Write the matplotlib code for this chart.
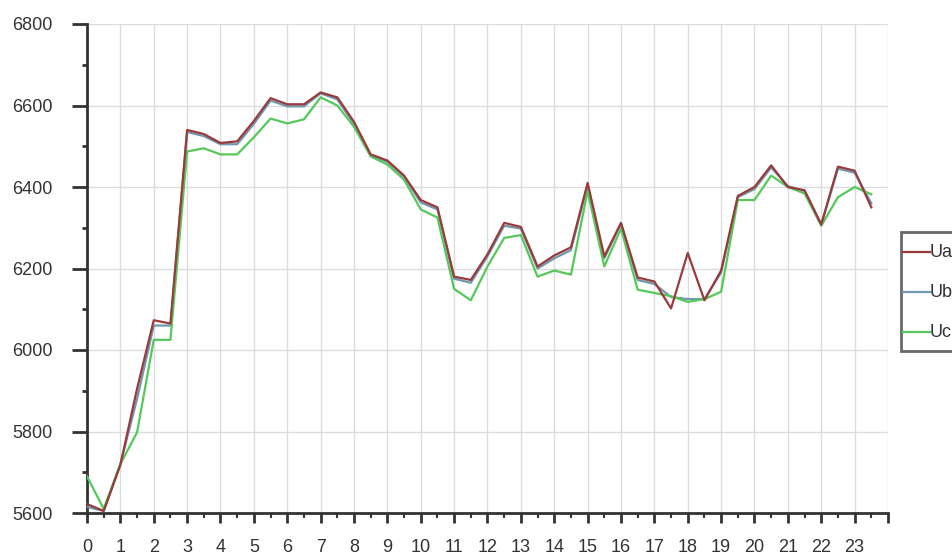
import matplotlib
matplotlib.use("Agg")
import numpy as np
import matplotlib.pyplot as plt
from matplotlib.ticker import MultipleLocator, FixedLocator
from matplotlib.legend_handler import HandlerLine2D
from matplotlib.lines import Line2D

plt.rcParams['font.family'] = ['Liberation Sans', 'DejaVu Sans']

hours = [0, 0.5, 1, 1.5, 2, 2.5, 3, 3.5, 4, 4.5, 5, 5.5, 6, 6.5, 7, 7.5,
         8, 8.5, 9, 9.5, 10, 10.5, 11, 11.5, 12, 12.5, 13, 13.5, 14, 14.5, 15, 15.5,
         16, 16.5, 17, 17.5, 18, 18.5, 19, 19.5, 20, 20.5, 21, 21.5, 22, 22.5, 23, 23.5]

Ua = [5622, 5605, 5718, 5905, 6073, 6065, 6540, 6530, 6508, 6512, 6562, 6618, 6603, 6603, 6632, 6620,
      6560, 6480, 6465, 6428, 6368, 6350, 6180, 6172, 6235, 6312, 6302, 6205, 6232, 6252, 6410, 6230,
      6312, 6178, 6168, 6102, 6238, 6122, 6195, 6378, 6400, 6453, 6400, 6392, 6308, 6450, 6440, 6350]

Ub = [5615, 5605, 5720, 5880, 6060, 6060, 6535, 6525, 6505, 6505, 6555, 6612, 6598, 6598, 6630, 6615,
      6555, 6478, 6462, 6425, 6362, 6345, 6175, 6165, 6230, 6305, 6298, 6200, 6225, 6245, 6405, 6225,
      6310, 6172, 6162, 6130, 6125, 6125, 6190, 6375, 6395, 6448, 6402, 6390, 6308, 6445, 6435, 6360]

Uc = [5690, 5610, 5720, 5798, 6025, 6025, 6487, 6495, 6480, 6480, 6522, 6568, 6556, 6566, 6620, 6600,
      6548, 6475, 6455, 6418, 6345, 6325, 6150, 6122, 6205, 6275, 6282, 6180, 6195, 6185, 6390, 6205,
      6298, 6148, 6140, 6132, 6118, 6125, 6143, 6368, 6368, 6428, 6400, 6384, 6305, 6375, 6400, 6382]

x_labels = [str(h) for h in range(24)]


class LoweredLineHandler(HandlerLine2D):
    def create_artists(self, legend, orig_handle, xdescent, ydescent, width, height,
                       fontsize, trans):
        arts = super().create_artists(legend, orig_handle, xdescent, ydescent, width,
                                      height, fontsize, trans)
        for a in arts:
            a.set_ydata(np.asarray(a.get_ydata()) - 5.0)
        return arts


fig = plt.figure(figsize=(9.53, 5.57), dpi=100)
ax = fig.add_axes([87/953, 1 - 513/557, (888 - 87)/953, (513 - 24)/557])

lb, = ax.plot(hours, Ub, color='#6f97b0', lw=1.6, zorder=3, label='Ub')
lc, = ax.plot(hours, Uc, color='#55c85a', lw=1.6, zorder=4, label='Uc')
la, = ax.plot(hours, Ua, color='#9a3a3a', lw=1.6, zorder=5, label='Ua')

ax.set_xlim(0, 24)
ax.set_ylim(5600, 6800)
ax.xaxis.set_major_locator(FixedLocator(list(range(25))))
ax.set_xticklabels(x_labels + [''])
ax.xaxis.set_minor_locator(MultipleLocator(0.5))
ax.yaxis.set_major_locator(MultipleLocator(200))
ax.yaxis.set_minor_locator(MultipleLocator(100))

ax.grid(True, which='major', color='#dcdcdc', lw=1.0, zorder=0)
for s in ['top', 'right']:
    ax.spines[s].set_visible(False)
for s in ['left', 'bottom']:
    ax.spines[s].set_color('#333333')
    ax.spines[s].set_linewidth(2)

ax.tick_params(axis='y', which='major', length=11, width=2, color='#333333', pad=14,
               labelsize=13, labelcolor='#333333')
ax.tick_params(axis='y', which='minor', length=3.6, width=2, color='#333333')
ax.tick_params(axis='x', which='major', length=7, width=2, color='#333333', pad=12,
               labelsize=13, labelcolor='#333333')
ax.tick_params(axis='x', which='minor', length=3.6, width=1.5, color='#333333')

leg = fig.legend(handles=[la, lb, lc], labels=['Ua', 'Ub', 'Uc'],
                 loc='upper left', bbox_to_anchor=(901/953, 1 - 232/557),
                 fancybox=False, frameon=True, fontsize=13,
                 handlelength=1.5, handleheight=2.6, handletextpad=0.0, labelspacing=0.28,
                 borderpad=0.1, borderaxespad=0,
                 handler_map={Line2D: LoweredLineHandler()})
leg.get_frame().set_edgecolor('#444444')
leg.get_frame().set_linewidth(2)
for t in leg.get_texts():
    t.set_color('#333333')

fig.savefig('out.png', dpi=100)
